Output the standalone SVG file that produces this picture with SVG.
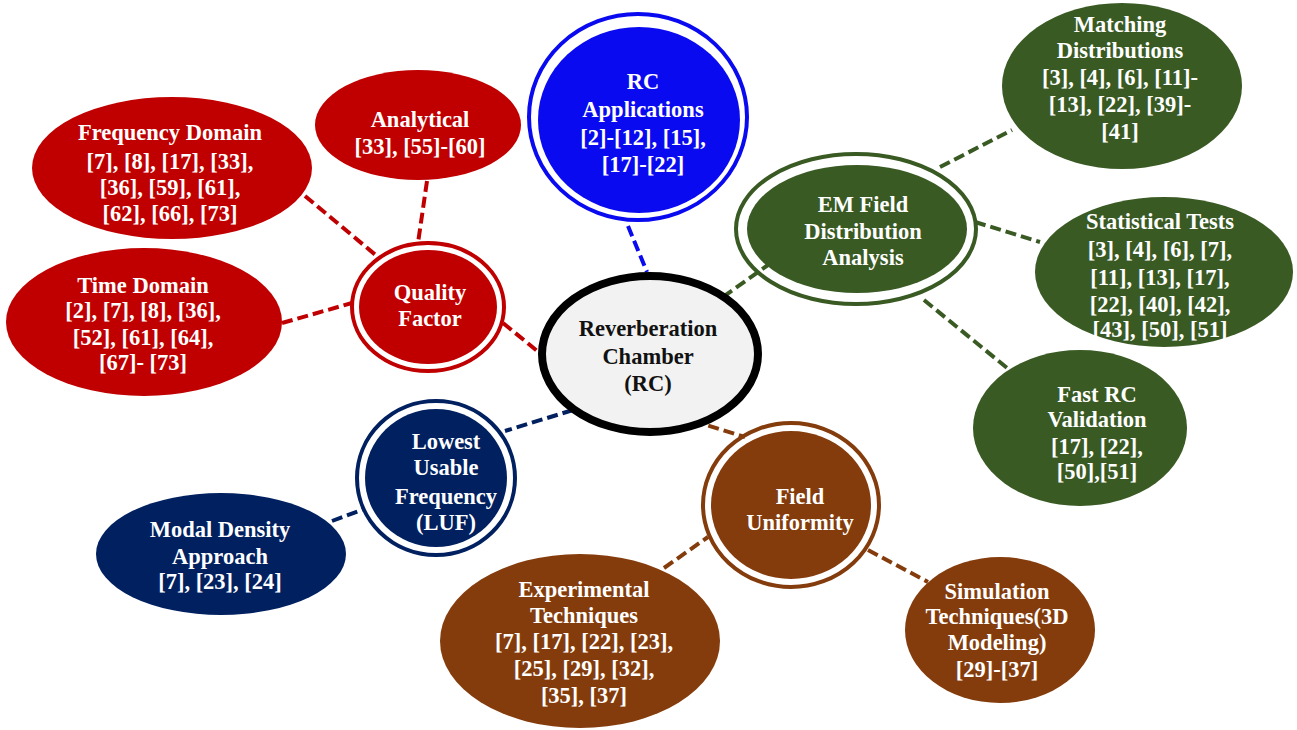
<svg xmlns="http://www.w3.org/2000/svg" width="1297" height="730" viewBox="0 0 1297 730">
<style>
.t{font-family:"Liberation Serif","Times New Roman",serif;font-weight:bold;font-size:22.5px;text-anchor:middle;fill:#ffffff}
.tc{fill:#111111;font-size:22.5px}
.red{fill:#c00000}
.blue{fill:#0a0af0}
.green{fill:#3a5a24}
.navy{fill:#002060}
.brown{fill:#843c0c}
.ring{fill:none;stroke-width:4}
.c line{stroke-width:4;stroke-dasharray:11 5;fill:none}
</style>
<rect width="1297" height="730" fill="#ffffff"/>
<g id="connectors" class="c">
<line x1="628" y1="226" x2="647" y2="272" stroke="#0a0af0"/>
<line x1="723" y1="297" x2="768" y2="265" stroke="#3a5a24"/>
<line x1="503" y1="323" x2="541" y2="354" stroke="#c00000"/>
<line x1="573" y1="410" x2="505" y2="431" stroke="#002060"/>
<line x1="693" y1="421" x2="745" y2="437" stroke="#843c0c"/>
<line x1="305" y1="196" x2="378" y2="257" stroke="#c00000"/>
<line x1="282" y1="323" x2="352" y2="303" stroke="#c00000"/>
<line x1="427" y1="181" x2="418" y2="243" stroke="#c00000"/>
<line x1="332" y1="521" x2="364" y2="509" stroke="#002060"/>
<line x1="664" y1="568" x2="708" y2="537" stroke="#843c0c"/>
<line x1="868" y1="550" x2="928" y2="582" stroke="#843c0c"/>
<line x1="940" y1="167" x2="1012" y2="130" stroke="#3a5a24"/>
<line x1="975" y1="222" x2="1040" y2="242" stroke="#3a5a24"/>
<line x1="924" y1="300" x2="1012" y2="372" stroke="#3a5a24"/>
</g>
<g id="center">
<ellipse cx="650" cy="354" rx="108" ry="78" fill="#f2f2f2" stroke="#000000" stroke-width="8"/>
<text class="t tc"><tspan x="648" y="336">Reverberation</tspan><tspan x="648" y="364">Chamber</tspan><tspan x="648" y="391">(RC)</tspan></text>
</g>
<g id="rc-applications">
<ellipse class="ring" cx="638" cy="117" rx="109" ry="103" stroke="#0a0af0" stroke-width="5"/>
<ellipse class="blue" cx="639" cy="120" rx="101" ry="93"/>
<text class="t"><tspan x="643" y="89">RC</tspan><tspan x="643" y="117">Applications</tspan><tspan x="643" y="145">[2]-[12], [15],</tspan><tspan x="643" y="172">[17]-[22]</tspan></text>
</g>
<g id="quality-factor">
<ellipse class="ring" cx="428" cy="307" rx="76" ry="64" stroke="#c00000"/>
<ellipse class="red" cx="428" cy="307" rx="69" ry="57"/>
<text class="t"><tspan x="430" y="300">Quality</tspan><tspan x="430" y="326">Factor</tspan></text>
</g>
<g id="frequency-domain">
<ellipse class="red" cx="172" cy="168" rx="140" ry="71"/>
<text class="t"><tspan x="170" y="140">Frequency Domain</tspan><tspan x="170" y="169">[7], [8], [17], [33],</tspan><tspan x="170" y="195">[36], [59], [61],</tspan><tspan x="170" y="221">[62], [66], [73]</tspan></text>
</g>
<g id="time-domain">
<ellipse class="red" cx="144" cy="322" rx="138" ry="74"/>
<text class="t"><tspan x="143" y="293">Time Domain</tspan><tspan x="143" y="318">[2], [7], [8], [36],</tspan><tspan x="143" y="345">[52], [61], [64],</tspan><tspan x="143" y="370">[67]- [73]</tspan></text>
</g>
<g id="analytical">
<ellipse class="red" cx="418" cy="125" rx="103" ry="55"/>
<text class="t"><tspan x="420" y="127">Analytical</tspan><tspan x="420" y="154">[33], [55]-[60]</tspan></text>
</g>
<g id="em-field">
<ellipse class="ring" cx="856" cy="229" rx="120" ry="75" stroke="#3a5a24"/>
<ellipse class="green" cx="857" cy="229" rx="110" ry="64"/>
<text class="t"><tspan x="863" y="212">EM Field</tspan><tspan x="863" y="239">Distribution</tspan><tspan x="863" y="265">Analysis</tspan></text>
</g>
<g id="matching-distributions">
<ellipse class="green" cx="1122" cy="86" rx="120" ry="83"/>
<text class="t"><tspan x="1120" y="32">Matching</tspan><tspan x="1120" y="58">Distributions</tspan><tspan x="1120" y="85">[3], [4], [6], [11]-</tspan><tspan x="1120" y="112">[13], [22], [39]-</tspan><tspan x="1120" y="139">[41]</tspan></text>
</g>
<g id="statistical-tests">
<ellipse class="green" cx="1164" cy="272" rx="129" ry="75"/>
<text class="t"><tspan x="1160" y="229">Statistical Tests</tspan><tspan x="1160" y="257">[3], [4], [6], [7],</tspan><tspan x="1160" y="285">[11], [13], [17],</tspan><tspan x="1160" y="312">[22], [40], [42],</tspan><tspan x="1160" y="337">[43], [50], [51]</tspan></text>
</g>
<g id="fast-rc-validation">
<ellipse class="green" cx="1080" cy="428" rx="107" ry="78"/>
<text class="t"><tspan x="1097" y="402">Fast RC</tspan><tspan x="1097" y="427">Validation</tspan><tspan x="1097" y="454">[17], [22],</tspan><tspan x="1097" y="479">[50],[51]</tspan></text>
</g>
<g id="luf">
<ellipse class="ring" cx="436" cy="478" rx="79" ry="77" stroke="#002060"/>
<ellipse class="navy" cx="436" cy="478" rx="71" ry="69"/>
<text class="t"><tspan x="446" y="449">Lowest</tspan><tspan x="446" y="475">Usable</tspan><tspan x="446" y="504">Frequency</tspan><tspan x="446" y="530">(LUF)</tspan></text>
</g>
<g id="modal-density">
<ellipse class="navy" cx="221" cy="554" rx="125" ry="61"/>
<text class="t"><tspan x="220" y="537">Modal Density</tspan><tspan x="220" y="564">Approach</tspan><tspan x="220" y="589">[7], [23], [24]</tspan></text>
</g>
<g id="field-uniformity">
<ellipse class="ring" cx="791" cy="505" rx="88" ry="82" stroke="#843c0c"/>
<ellipse class="brown" cx="791" cy="505" rx="80" ry="74"/>
<text class="t"><tspan x="800" y="504">Field</tspan><tspan x="800" y="530">Uniformity</tspan></text>
</g>
<g id="experimental-techniques">
<ellipse class="brown" cx="580" cy="641" rx="140" ry="87"/>
<text class="t"><tspan x="584" y="597">Experimental</tspan><tspan x="584" y="623">Techniques</tspan><tspan x="584" y="649">[7], [17], [22], [23],</tspan><tspan x="584" y="676">[25], [29], [32],</tspan><tspan x="584" y="703">[35], [37]</tspan></text>
</g>
<g id="simulation-techniques">
<ellipse class="brown" cx="1000" cy="630" rx="95" ry="73"/>
<text class="t"><tspan x="997" y="599">Simulation</tspan><tspan x="997" y="624">Techniques(3D</tspan><tspan x="997" y="650">Modeling)</tspan><tspan x="997" y="677">[29]-[37]</tspan></text>
</g>
</svg>
